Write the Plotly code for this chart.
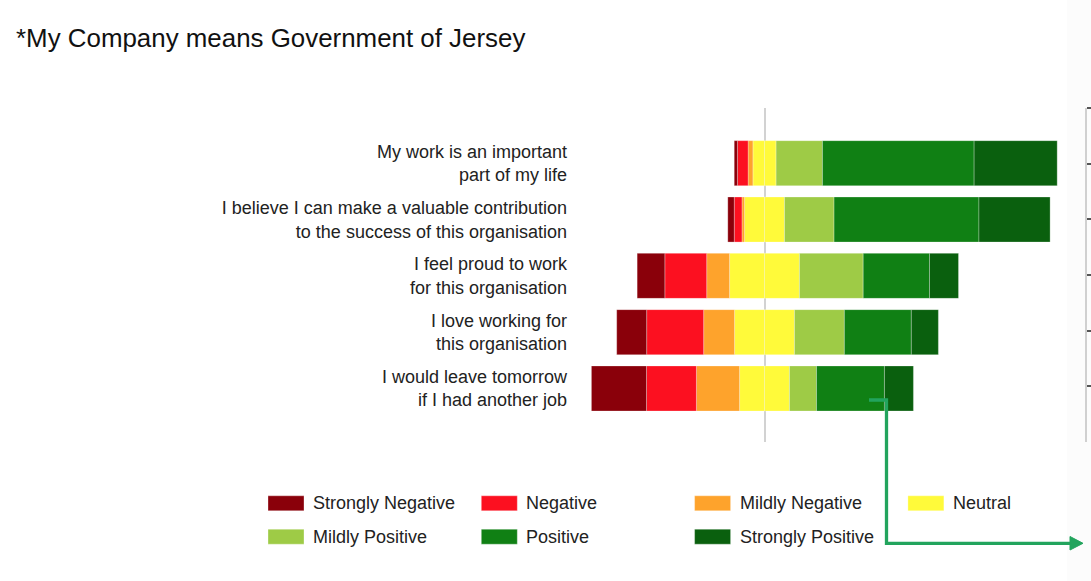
import plotly.graph_objects as go

# ---------------- data ----------------
statements = [
    "My work is an important<br>part of my life",
    "I believe I can make a valuable contribution<br>to the success of this organisation",
    "I feel proud to work<br>for this organisation",
    "I love working for<br>this organisation",
    "I would leave tomorrow<br>if I had another job",
]
levels = ["Strongly Negative", "Negative", "Mildly Negative", "Neutral",
          "Mildly Positive", "Positive", "Strongly Positive"]
strongly_negative = [1.0, 2.0, 8.6, 9.3, 17.1]
negative = [3.3, 2.4, 13.0, 17.7, 15.5]
mildly_negative = [1.5, 0.8, 7.1, 9.6, 13.4]
neutral = [7.2, 12.4, 21.7, 18.6, 15.5]
mildly_positive = [14.4, 15.4, 19.8, 15.5, 8.4]
positive = [47.1, 45.0, 20.6, 20.8, 21.1]
strongly_positive = [25.8, 22.1, 9.0, 8.4, 9.0]

colors = {
    "Strongly Negative": "#8a000a",
    "Negative": "#fc1020",
    "Mildly Negative": "#fea32c",
    "Neutral": "#fffa3a",
    "Mildly Positive": "#9ecb46",
    "Positive": "#108014",
    "Strongly Positive": "#0a600e",
}

title_text = "*My Company means Government of Jersey"

# ---------------- layout geometry ----------------
W, H = 1091, 581
ML, MR, MT, MB = 580, 6, 108, 139
PW = W - ML - MR
PH = H - MT - MB


def px(x):
    return (x - ML) / PW


def py(y):
    return (H - MB - y) / PH


fig = go.Figure()
line_style = dict(color="rgba(255,255,255,0.35)", width=0.8)


def add(name, vals, sign=1, half=False):
    v = [(x / 2 if half else x) * sign for x in vals]
    fig.add_trace(go.Bar(
        y=statements, x=v, orientation="h", name=name,
        marker=dict(color=colors[name], line=line_style),
        showlegend=False, hoverinfo="x+name",
    ))


# negative side (stacked outward from centre)
add("Neutral", neutral, -1, half=True)
add("Mildly Negative", mildly_negative, -1)
add("Negative", negative, -1)
add("Strongly Negative", strongly_negative, -1)
# positive side
add("Neutral", neutral, 1, half=True)
add("Mildly Positive", mildly_positive)
add("Positive", positive)
add("Strongly Positive", strongly_positive)

# empty helper trace so the secondary (right) axis gets drawn
fig.add_trace(go.Scatter(x=[], y=[], yaxis="y2", showlegend=False, hoverinfo="skip"))

x0 = 764.5
scale = 3.22
fig.update_layout(
    width=W, height=H,
    margin=dict(l=ML, r=MR, t=MT, b=MB, pad=0, autoexpand=False),
    paper_bgcolor="white", plot_bgcolor="white",
    barmode="relative", bargap=0.2,
    font=dict(family="Liberation Sans, Arial, sans-serif", size=18, color="#222222"),
    xaxis=dict(range=[(ML - x0) / scale, (W - MR - x0) / scale],
               showgrid=False, showticklabels=False, ticks="",
               zeroline=True, zerolinecolor="#d2d2d2", zerolinewidth=2,
               automargin=False, fixedrange=True),
    yaxis=dict(type="category", range=[4.95, -0.98], showgrid=False,
               showline=False, ticks="", ticklabelstandoff=12,
               tickfont=dict(size=18, color="#222222"),
               automargin=False, fixedrange=True),
    yaxis2=dict(overlaying="y", side="right", range=[6, 0],
                tickmode="array", tickvals=[0, 1, 2, 3, 4, 5],
                showticklabels=False, ticks="outside", ticklen=6,
                tickcolor="#555555", tickwidth=1.5,
                showline=True, linecolor="#d0d0d0", linewidth=1.5,
                showgrid=False, zeroline=False,
                automargin=False, fixedrange=True),
    showlegend=False,
)

shapes = []
annotations = []

# faint shadow at right edge
shapes.append(dict(type="rect", xref="paper", yref="paper",
                   x0=px(1067), x1=px(W), y0=py(H), y1=py(0),
                   fillcolor="rgba(0,0,0,0.012)", line=dict(width=0), layer="below"))

# title
annotations.append(dict(text=title_text, xref="paper", yref="paper",
                        x=px(14), y=py(38), xanchor="left", yanchor="middle",
                        showarrow=False, font=dict(size=25.9, color="#111111")))

# manual legend (4 columns, 2 rows)
for i, name in enumerate(levels):
    row, col = divmod(i, 4)
    sx = 268 + col * 213.3
    sy = 503.3 + row * 33.4
    shapes.append(dict(type="rect", xref="paper", yref="paper",
                       x0=px(sx), x1=px(sx + 36), y0=py(sy - 7.5), y1=py(sy + 7.5),
                       fillcolor=colors[name], line=dict(color="rgba(255,255,255,0.4)", width=0.8)))
    annotations.append(dict(text=name, xref="paper", yref="paper",
                            x=px(sx + 43), y=py(sy), xanchor="left", yanchor="middle",
                            showarrow=False, font=dict(size=18, color="#222222")))

# green connector arrow
arrow_col = "#22a45d"
path = "M {},{} L {},{} L {},{} L {},{}".format(
    px(869), py(400), px(886.5), py(400), px(886.5), py(543.3), px(1071), py(543.3))
shapes.append(dict(type="path", xref="paper", yref="paper", path=path,
                   line=dict(color=arrow_col, width=3.3)))
head = "M {},{} L {},{} L {},{} Z".format(
    px(1070), py(536.5), px(1083), py(543.3), px(1070), py(550))
shapes.append(dict(type="path", xref="paper", yref="paper", path=head,
                   fillcolor=arrow_col, line=dict(color=arrow_col, width=1)))

fig.update_layout(shapes=shapes, annotations=annotations)

fig.write_html("out.html")
